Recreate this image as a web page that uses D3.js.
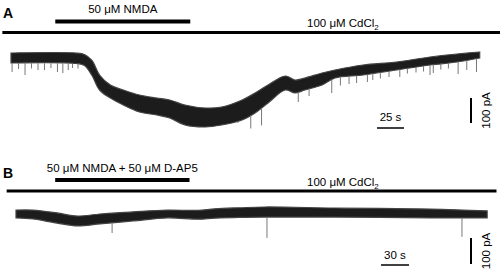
<!DOCTYPE html>
<html>
<head>
<meta charset="utf-8">
<script src="https://cdn.jsdelivr.net/npm/d3@7"></script>
<style>
  body { margin: 0; background: #fff; }
  svg text { font-family: "Liberation Sans", Arial, sans-serif; fill: #000; }
</style>
</head>
<body>
<div id="chart"></div>
<script>
// Panel A: envelope of the trace, time (s), upper / lower current (pA)
const timeA  = [0, 60, 68, 75, 82, 92, 104, 119, 135, 147, 161, 180, 195, 214, 226, 238, 254, 263, 272, 288, 300, 326, 357, 388, 413, 434];
const upperA = [20, 20, 14, -10, -68, -108, -128, -148, -160, -168, -188, -200, -196, -168, -140, -108, -72, -88, -80, -60, -48, -28, -16, 4, 16, 24];
const lowerA = [-20, -22, -30, -70, -128, -160, -188, -216, -228, -240, -268, -276, -268, -248, -220, -180, -128, -140, -128, -108, -80, -68, -48, -28, -16, 0];
// downward spontaneous events in A: time (s), peak (pA)
const spikeTimeA = [1, 7, 13, 19, 25, 31, 37, 43, 48, 53, 57, 62, 210, 222, 232, 266, 276, 297, 305, 313, 320, 330, 335, 342, 350, 360, 367, 375, 382, 388, 391, 398, 405, 414, 422, 431];
const spikePeakA = [-56, -44, -68, -42, -48, -48, -40, -56, -60, -48, -40, -42, -260, -282, -270, -176, -152, -140, -110, -104, -100, -96, -88, -82, -76, -76, -62, -58, -54, -68, -60, -46, -42, -64, -48, -56];

// Panel B
const timeB  = [0, 18, 44, 66, 90, 125, 162, 195, 213, 240, 267, 342, 444, 505];
const upperB = [15, 15, 4, -8, 0, 8, 15, 14, 20, 24, 27, 23, 19, 12];
const lowerB = [-15, -19, -35, -46, -38, -27, -15, -20, -16, -13, -12, -12, -15, -15];
const spikeTimeB = [103, 269, 478];
const spikePeakB = [-73, -92, -88];

// drug applications (s)
const nmdaA = [41, 166], cdA = [-8, 455];
const nmdaB = [42, 186], cdB = [-10, 515];
const labelsA = { drug: "50 μM NMDA", scaleT: 25 };
const labelsB = { drug: "50 μM NMDA + 50 μM D-AP5", scaleT: 30 };
const scaleI = 100;

const svg = d3.select('#chart').append('svg')
  .attr('width', 500).attr('height', 275);

function panel(opt) {
  const g = svg.append('g');
  const x = d3.scaleLinear().domain([0, 100]).range([opt.x0, opt.x0 + opt.pxPer100s]);
  const y = d3.scaleLinear().domain([0, -100]).range([opt.y0, opt.y0 + opt.pxPer100pA]);

  // panel letter
  g.append('text').attr('x', 3).attr('y', opt.letterY)
    .style('font-size', '14px').style('font-weight', 'bold').text(opt.letter);

  // drug label and bar
  g.append('text').attr('x', x((opt.nmda[0] + opt.nmda[1]) / 2)).attr('y', opt.drugY)
    .attr('text-anchor', 'middle').style('font-size', '11.5px').text(opt.labels.drug);
  g.append('line').attr('x1', x(opt.nmda[0])).attr('x2', x(opt.nmda[1]))
    .attr('y1', opt.nmdaY).attr('y2', opt.nmdaY)
    .attr('stroke', '#000').attr('stroke-width', 4);

  // CdCl2 line
  const cd = g.append('text').attr('x', 307).attr('y', opt.cdTextY).style('font-size', '11.5px');
  cd.append('tspan').text('100 μM CdCl');
  cd.append('tspan').attr('dy', 3).style('font-size', '8px').text('2');
  g.append('line').attr('x1', x(opt.cd[0])).attr('x2', x(opt.cd[1]))
    .attr('y1', opt.cdY).attr('y2', opt.cdY)
    .attr('stroke', '#000').attr('stroke-width', 3);

  // trace
  const rows = opt.t.map((t, i) => ({ t, hi: opt.hi[i], lo: opt.lo[i] }));
  const area = d3.area()
    .x(d => x(d.t)).y0(d => y(d.lo)).y1(d => y(d.hi))
    .curve(d3.curveCatmullRom);
  g.append('path').attr('d', area(rows))
    .attr('fill', '#1c1c1c').attr('stroke', '#444').attr('stroke-width', 1.2);

  // spontaneous events
  const lowAt = t => {
    const i = d3.bisectLeft(opt.t, t);
    if (i <= 0) return opt.lo[0];
    if (i >= opt.t.length) return opt.lo[opt.t.length - 1];
    return opt.lo[i - 1] + (opt.lo[i] - opt.lo[i - 1]) * (t - opt.t[i - 1]) / (opt.t[i] - opt.t[i - 1]);
  };
  g.selectAll('.spike').data(opt.spT.map((t, i) => ({ t, p: opt.spP[i] })))
    .enter().append('line')
      .attr('class', 'spike')
      .attr('x1', d => x(d.t)).attr('x2', d => x(d.t))
      .attr('y1', d => y(lowAt(d.t))).attr('y2', d => y(d.p))
      .attr('stroke', '#777').attr('stroke-width', 1);

  // time scale bar
  g.append('text').attr('x', opt.sbX + (x(opt.labels.scaleT) - x(0)) / 2).attr('y', opt.sbTextY)
    .attr('text-anchor', 'middle').style('font-size', '11.5px').text(opt.labels.scaleT + ' s');
  g.append('line').attr('x1', opt.sbX).attr('x2', opt.sbX + x(opt.labels.scaleT) - x(0))
    .attr('y1', opt.sbY).attr('y2', opt.sbY).attr('stroke', '#000').attr('stroke-width', 1.5);

  // current scale bar
  const h = y(-scaleI) - y(0);
  g.append('line').attr('x1', 471).attr('x2', 471)
    .attr('y1', opt.vbY).attr('y2', opt.vbY + h).attr('stroke', '#000').attr('stroke-width', 2);
  g.append('text')
    .attr('transform', `translate(490, ${opt.vbY + h / 2}) rotate(-90)`)
    .attr('text-anchor', 'middle').style('font-size', '11.5px').text('100 pA');
}

panel({
  letter: 'A', letterY: 18, x0: 11, pxPer100s: 108, y0: 58, pxPer100pA: 25,
  t: timeA, hi: upperA, lo: lowerA, spT: spikeTimeA, spP: spikePeakA,
  nmda: nmdaA, cd: cdA, labels: labelsA,
  drugY: 13, nmdaY: 21.5, cdTextY: 27, cdY: 32.5,
  sbX: 377, sbY: 128, sbTextY: 121, vbY: 98
});
panel({
  letter: 'B', letterY: 178, x0: 16, pxPer100s: 93.3, y0: 214, pxPer100pA: 26,
  t: timeB, hi: upperB, lo: lowerB, spT: spikeTimeB, spP: spikePeakB,
  nmda: nmdaB, cd: cdB, labels: labelsB,
  drugY: 172, nmdaY: 180, cdTextY: 186, cdY: 191,
  sbX: 381, sbY: 265, sbTextY: 259, vbY: 238
});
</script>
</body>
</html>
